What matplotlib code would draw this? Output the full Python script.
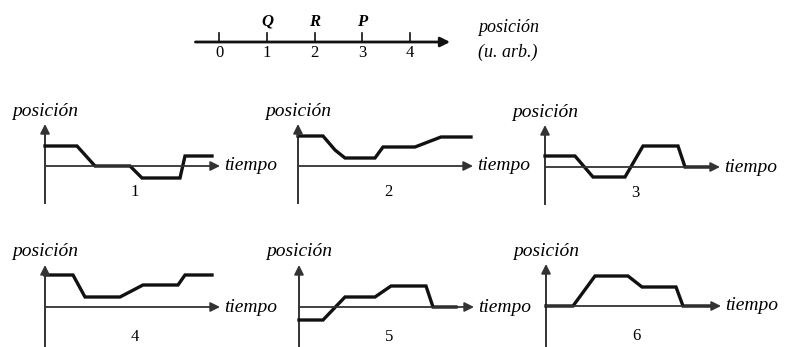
import matplotlib.pyplot as plt

plt.rcParams['font.family'] = ['Liberation Serif', 'DejaVu Serif']

W, H = 786, 347

# number line
line_ticks = [0, 1, 2, 3, 4]
marked_points = {'Q': 1, 'R': 2, 'P': 3}

# panel data: time and position (arbitrary units)
t1 = [0, 3.2, 5.0, 8.5, 9.7, 13.5, 14.0, 16.7]
x1 = [2.0, 2.0, 0, 0, -1.2, -1.2, 1.0, 1.0]
t2 = [0, 2.5, 3.7, 4.7, 7.7, 8.5, 11.7, 14.3, 17.3]
x2 = [3.0, 3.0, 1.6, 0.8, 0.8, 1.9, 1.9, 2.9, 2.9]
t3 = [0, 3.0, 4.8, 8.0, 9.8, 13.3, 14.0, 16.5]
x3 = [1.1, 1.1, -1.0, -1.0, 2.1, 2.1, 0, 0]
t4 = [0, 2.8, 4.0, 7.5, 9.8, 13.3, 14.0, 16.7]
x4 = [3.2, 3.2, 1.0, 1.0, 2.2, 2.2, 3.2, 3.2]
t5 = [0, 2.4, 4.6, 7.6, 9.2, 12.7, 13.4, 15.7]
x5 = [-1.3, -1.3, 1.0, 1.0, 2.1, 2.1, 0, 0]
t6 = [0, 2.7, 4.9, 8.2, 9.6, 13.0, 13.7, 16.5]
x6 = [0, 0, 3.0, 3.0, 1.9, 1.9, 0, 0]

panels = [
    ("1", t1, x1, (45, 166)),
    ("2", t2, x2, (298, 166)),
    ("3", t3, x3, (545, 167)),
    ("4", t4, x4, (45, 307)),
    ("5", t5, x5, (299, 307)),
    ("6", t6, x6, (546, 306)),
]

INK = "#111111"
AXIS = "#333333"


def arrow(ax, start, end, lw=1.3, color=AXIS):
    ax.annotate("", xy=end, xytext=start,
                arrowprops=dict(arrowstyle="-|>", color=color, lw=lw,
                                mutation_scale=14, shrinkA=0, shrinkB=0),
                annotation_clip=False)


fig = plt.figure(figsize=(W / 100, H / 100), dpi=100)

# top number line (1 unit = 47.7 px)
ax = fig.add_axes([180 / W, 1 - 70 / H, 320 / W, 70 / H])
ax.set_xlim(-0.824, 5.886)
ax.set_ylim(-28, 42)
ax.axis("off")
arrow(ax, (-0.5, 0), (4.84, 0), lw=2, color=INK)
for t in line_ticks:
    ax.plot([t, t], [0, 9], color=INK, lw=1.2)
    ax.text(t, -11, str(t), ha="center", va="center", fontsize=12)
for name, val in marked_points.items():
    ax.text(val, 20, name, ha="center", va="center", fontsize=12,
            style="italic", fontweight="bold")
ax.text(5.42, 14, "posición", ha="left", va="center", fontsize=13, style="italic")
ax.text(5.42, -10, "(u. arb.)", ha="left", va="center", fontsize=13, style="italic")

# small position-time panels (1 unit = 10 px)
for label, t, x, (ox, oy) in panels:
    ax = fig.add_axes([ox / W, 1 - (oy + 40) / H, 180 / W, 85 / H])
    ax.set_xlim(0, 18)
    ax.set_ylim(-4, 4.5)
    ax.axis("off")
    bottom = -3.7 if oy < 200 else -4.2
    ax.plot([0, 0], [bottom, 3.5], color=AXIS, lw=1.4, clip_on=False)
    arrow(ax, (0, 3.0), (0, 4.2))
    arrow(ax, (0, 0), (17.5, 0))
    ax.plot(t, x, color=INK, lw=2.4, solid_joinstyle="miter", clip_on=False)
    ax.text(0, 5.5, "posición", ha="center", va="center", fontsize=14,
            style="italic")
    ax.text(17.9, 0, "tiempo", ha="left", va="center", fontsize=14,
            style="italic")
    ax.text(9.0, -2.6 if oy < 200 else -3.0, label, ha="center",
            va="center", fontsize=12)

fig.savefig("out.png", dpi=100)
